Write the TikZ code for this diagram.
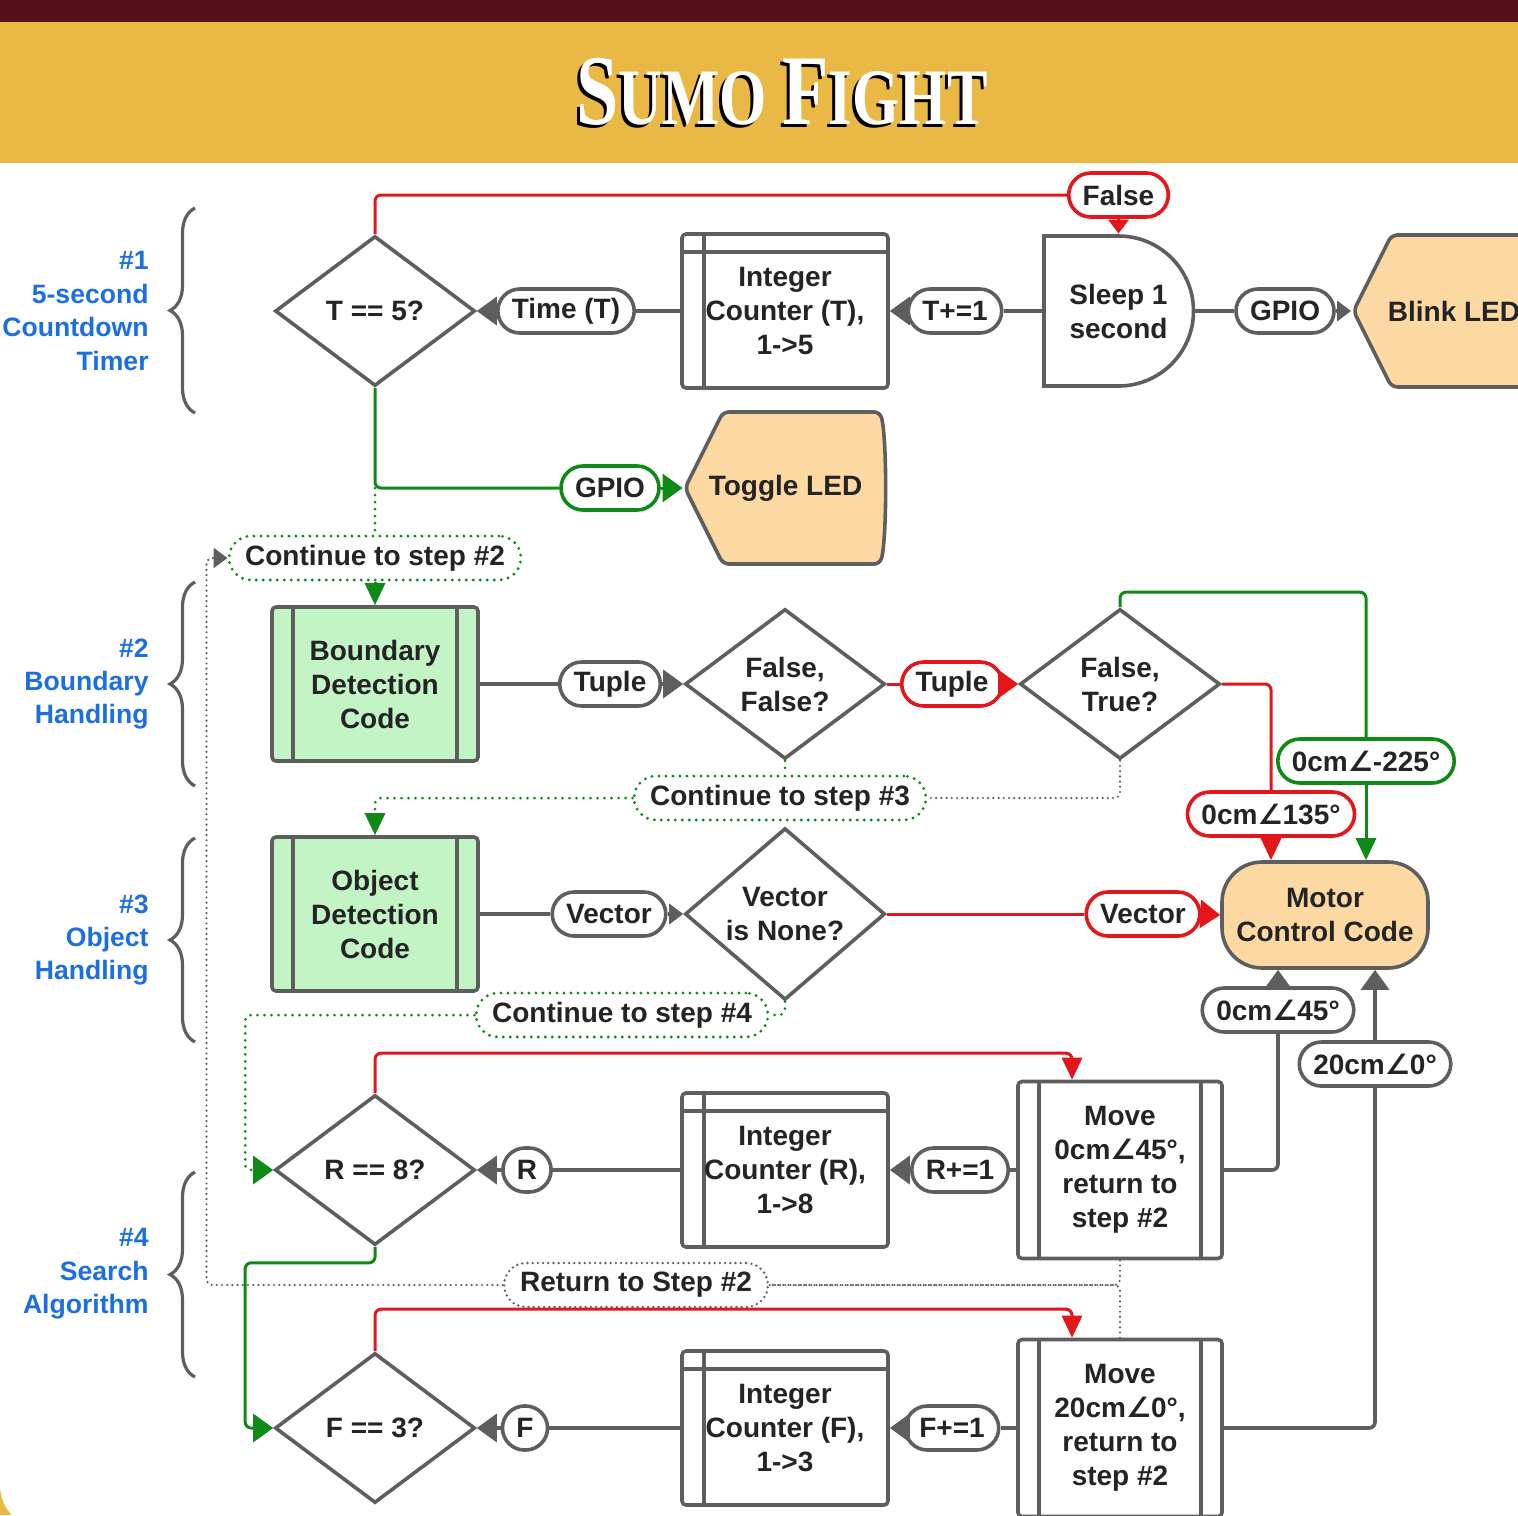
\documentclass[tikz,border=0pt]{standalone}
\usepackage{fontspec}
\setmainfont{Liberation Sans}
\newfontfamily\symfont{DejaVu Sans}
\newfontfamily\titlefont{Liberation Serif}
\usetikzlibrary{shapes.geometric,arrows.meta,decorations.pathreplacing}

\definecolor{maroon}{HTML}{541117}
\definecolor{gold}{HTML}{EAB945}
\definecolor{gry}{HTML}{5E5E5E}
\definecolor{ink}{HTML}{242424}
\definecolor{rd}{HTML}{E3161B}
\definecolor{grn}{HTML}{0F8A16}
\definecolor{blu}{HTML}{1B6FE0}
\definecolor{org}{HTML}{FCD9A2}
\definecolor{mint}{HTML}{C3F4C6}

\newcommand{\angl}{{\symfont ∠}}
\newcommand{\titletext}{\titlefont\bfseries
  \fontsize{50pt}{50pt}\selectfont S\fontsize{40pt}{40pt}\selectfont UMO
  \fontsize{50pt}{50pt}\selectfont F\fontsize{40pt}{40pt}\selectfont IGHT}

\begin{document}
\begin{tikzpicture}[x=0.5pt, y=-0.5pt,
    font=\fontsize{14pt}{17pt}\selectfont\bfseries, text=ink,
    dia/.style={diamond, draw=gry, line width=1.8pt, fill=white,
        minimum width=100pt, minimum height=75pt, inner sep=0pt, align=center},
    store/.style={rectangle, draw=gry, line width=1.8pt, fill=white,
        rounded corners=2pt, minimum width=103pt, minimum height=77pt, align=center,
        path picture={\draw[draw=gry, line width=1.8pt]
            ([xshift=11pt]path picture bounding box.north west) --
            ([xshift=11pt]path picture bounding box.south west)
            ([yshift=-9pt]path picture bounding box.north west) --
            ([yshift=-9pt]path picture bounding box.north east);}},
    proc/.style={rectangle, draw=gry, line width=1.8pt, fill=white,
        rounded corners=2pt, minimum width=103pt, minimum height=77pt, align=center,
        path picture={\draw[draw=gry, line width=1.8pt]
            ([xshift=10.5pt]path picture bounding box.north west) --
            ([xshift=10.5pt]path picture bounding box.south west)
            ([xshift=-10.5pt]path picture bounding box.north east) --
            ([xshift=-10.5pt]path picture bounding box.south east);}},
    dly/.style={rectangle, minimum width=76.5pt, minimum height=77pt,
        inner sep=0pt, align=center,
        path picture={\path[fill=white, draw=gry, line width=1.8pt]
            ([shift={(1pt,-1pt)}]path picture bounding box.north west) --
            ([yshift=-1pt]path picture bounding box.north)
            arc[start angle=90, end angle=-90, radius=37.5pt] --
            ([shift={(1pt,1pt)}]path picture bounding box.south west) -- cycle;}},
    disp/.style={rectangle, minimum width=102.5pt, minimum height=78pt,
        inner sep=0pt, align=center,
        path picture={\path[fill=org, draw=gry, line width=1.8pt, rounded corners=3pt]
            ([xshift=1pt]path picture bounding box.west) --
            ([shift={(20pt,-1pt)}]path picture bounding box.north west) --
            ([shift={(-4pt,-1pt)}]path picture bounding box.north east)
            .. controls ([shift={(-0.5pt,-14pt)}]path picture bounding box.north east)
            and ([shift={(-0.5pt,14pt)}]path picture bounding box.south east) ..
            ([shift={(-4pt,1pt)}]path picture bounding box.south east) --
            ([shift={(20pt,1pt)}]path picture bounding box.south west) -- cycle;}},
    motorbox/.style={rectangle, rounded corners=20pt, draw=gry, line width=1.8pt,
        fill=org, minimum width=103pt, minimum height=53pt, align=center},
    pill/.style={rectangle, rounded corners=11pt, draw=gry, line width=1.8pt,
        fill=white, minimum height=22pt, minimum width=22pt,
        inner xsep=7pt, inner ysep=0pt},
    rpill/.style={pill, draw=rd},
    gpill/.style={pill, draw=grn},
    dpill/.style={pill, draw=grn, line width=1.6pt, inner xsep=8pt,
        dash pattern=on 0pt off 3.5pt, line cap=round},
    ypill/.style={pill, draw=gry, line width=1.3pt, inner xsep=8pt,
        dash pattern=on 0pt off 2.6pt, line cap=round},
    gline/.style={draw=gry, line width=1.8pt, rounded corners=3pt},
    rline/.style={draw=rd, line width=1.5pt, rounded corners=3pt},
    grline/.style={draw=grn, line width=1.5pt, rounded corners=3pt},
    gdots/.style={draw=grn, line width=1.5pt, rounded corners=3pt,
        dash pattern=on 0pt off 3.5pt, line cap=round},
    ydots/.style={draw=gry, line width=1.2pt, rounded corners=3pt,
        dash pattern=on 0pt off 2.6pt, line cap=round},
    tipbig/.style={-{Triangle[length=10pt, width=14pt]}},
    tipsmall/.style={-{Triangle[length=7pt, width=10pt]}},
    tipdown/.style={-{Triangle[length=11pt, width=10pt]}},
    grp/.style={text=blu, align=right, anchor=east, inner sep=0pt,
        font=\fontsize{13.3pt}{16.7pt}\selectfont\bfseries},
    llave/.style={draw=gry, line width=1.6pt, decorate,
        decoration={brace, amplitude=12.5pt}}]
    \useasboundingbox (0,0) rectangle (1518,1515);
    % Encabezado
    \fill[gold] (0,0) rectangle (1518,1515);
    \fill[maroon] (0,0) rectangle (1518,22);
    \fill[white] (1560,163) -- (0,163) -- (0,1485)
        arc[start angle=180, end angle=270, radius=22pt] -- (1560,1529) -- cycle;
    \node[text=black, xscale=0.76] (titlesh) at (779,95) {\titletext};
    \node[text=white, xscale=0.76] (title) at (782,92) {\titletext};
    % Llaves y grupos
    \draw[llave] (195,413) -- (195,208);
    \draw[llave] (195,786) -- (195,582);
    \draw[llave] (195,1042) -- (195,838);
    \draw[llave] (195,1377) -- (195,1172);
    \node[grp] (lab1) at (149,311) {\#1\\5-second\\Countdown\\Timer};
    \node[grp] (lab2) at (149,684) {\#2\\Boundary\\Handling};
    \node[grp] (lab3) at (149,940) {\#3\\Object\\Handling};
    \node[grp] (lab4) at (149,1274) {\#4\\Search\\Algorithm};
    % Paso 1
    \node[dia] (t5) at (375,311) {T == 5?};
    \node[pill] (timeT) at (566,311) {Time (T)};
    \node[store] (cntT) at (785,311) {Integer\\Counter (T),\\1->5};
    \node[pill] (incT) at (955,311) {T+=1};
    \node[dly] (sleep) at (1118.5,311) {Sleep 1\\second};
    \node[pill] (gpioA) at (1285,311) {GPIO};
    \node[disp] (blink) at (1454,311) {Blink LED};
    \node[rpill] (falseA) at (1118.5,195) {False};
    \node[gpill] (gpioB) at (610,488) {GPIO};
    \node[disp] (toggle) at (785.5,488) {Toggle LED};
    \node[dpill] (cont2) at (375,558) {Continue to step \#2};
    % Paso 2
    \node[proc, fill=mint] (bound) at (375,684) {Boundary\\Detection\\Code};
    \node[pill] (tupA) at (610,684) {Tuple};
    \node[dia] (ffq) at (785,684) {False,\\False?};
    \node[rpill] (tupB) at (952,684) {Tuple};
    \node[dia] (ftq) at (1120,684) {False,\\True?};
    \node[dpill] (cont3) at (780,798) {Continue to step \#3};
    \node[gpill] (ang225) at (1366,761) {0cm\angl-225°};
    \node[rpill] (ang135) at (1271,814) {0cm\angl135°};
    % Paso 3
    \node[proc, fill=mint] (obj) at (375,914) {Object\\Detection\\Code};
    \node[pill] (vecA) at (609,914) {Vector};
    \node[dia] (vnone) at (785,914) {Vector\\is None?};
    \node[rpill] (vecB) at (1143,914) {Vector};
    \node[motorbox] (motor) at (1325,915) {Motor\\Control Code};
    \node[dpill] (cont4) at (622,1015) {Continue to step \#4};
    \node[pill] (ang45) at (1278,1010) {0cm\angl45°};
    \node[pill] (ang0) at (1375,1064) {20cm\angl0°};
    % Paso 4
    \node[dia] (r8) at (375,1170) {R == 8?};
    \node[pill] (pillR) at (527,1170) {R};
    \node[store] (cntR) at (785,1170) {Integer\\Counter (R),\\1->8};
    \node[pill] (incR) at (960,1170) {R+=1};
    \node[proc, minimum width=102pt, minimum height=88.5pt] (moveR) at (1120,1170)
        {Move\\0cm\angl45°,\\return to\\step \#2};
    \node[ypill] (ret2) at (636,1285) {Return to Step \#2};
    \node[dia] (f3) at (375,1428) {F == 3?};
    \node[pill] (pillF) at (525,1428) {F};
    \node[store] (cntF) at (785,1428) {Integer\\Counter (F),\\1->3};
    \node[pill] (incF) at (952,1428) {F+=1};
    \node[proc, minimum width=102pt, minimum height=88.5pt] (moveF) at (1120,1428)
        {Move\\20cm\angl0°,\\return to\\step \#2};
    % Conexiones paso 1
    \draw[gline] (cntT.west) -- (timeT.east);
    \draw[gline, tipbig] (timeT.west) -- (t5.east);
    \draw[gline] (sleep.west) -- (incT.east);
    \draw[gline, tipbig] (incT.west) -- (cntT.east);
    \draw[gline] (sleep.east) -- (gpioA.west);
    \draw[gline, tipsmall] (gpioA.east) -- (blink.west);
    \draw[rline] (t5.north) |- (falseA.west);
    \draw[rline, tipsmall] (falseA.south) -- (sleep.north);
    \draw[grline] (t5.south) |- (gpioB.west);
    \draw[grline, tipbig] (gpioB.east) -- (toggle.west);
    \draw[gdots] (t5.south |- gpioB.west) -- (cont2.north);
    \draw[grline, tipdown] (cont2.south) -- (bound.north);
    % Conexiones paso 2
    \draw[gline] (bound.east) -- (tupA.west);
    \draw[gline, tipbig] (tupA.east) -- (ffq.west);
    \draw[rline] (ffq.east) -- (tupB.west);
    \draw[rline, tipbig] (tupB.east) -- (ftq.west);
    \draw[grline] (ftq.north) -- ++(0,-15) -| (ang225.north);
    \draw[grline, tipdown] (ang225.south) -- (ang225.south |- motor.north);
    \draw[rline] (ftq.east) -| (ang135.north);
    \draw[rline, tipdown] (ang135.south) -- (ang135.south |- motor.north);
    \draw[gdots] (ffq.south) -- (ffq.south |- cont3.north);
    \draw[ydots] (ftq.south) |- (cont3.east);
    \draw[gdots, tipdown] (cont3.west) -| (obj.north);
    % Conexiones paso 3
    \draw[gline] (obj.east) -- (vecA.west);
    \draw[gline, tipsmall] (vecA.east) -- (vnone.west);
    \draw[rline] (vnone.east) -- (vecB.west);
    \draw[rline, tipbig] (vecB.east) -- (motor.west);
    \draw[gdots] (vnone.south) |- (cont4.east);
    \draw[gdots, tipbig] (cont4.west) -| ([xshift=-14pt]r8.west) -- (r8.west);
    % Conexiones paso 4
    \draw[gline] (cntR.west) -- (pillR.east);
    \draw[gline, tipbig] (pillR.west) -- (r8.east);
    \draw[gline] (moveR.west) -- (incR.east);
    \draw[gline, tipbig] (incR.west) -- (cntR.east);
    \draw[rline, tipdown] (r8.north) -- ++(0,-40) -| ([xshift=-24pt]moveR.north);
    \draw[gline] (moveR.east) -| (ang45.south);
    \draw[gline, tipbig] (ang45.north) -- (ang45.north |- motor.south);
    \draw[grline, tipbig] (r8.south) -- ++(0,16) -| ([xshift=-14pt]f3.west) -- (f3.west);
    \draw[ydots] (moveR.south) |- (ret2.east);
    \draw[ydots] (moveF.north) |- (ret2.east);
    \draw[ydots, tipsmall] (ret2.west) -| ([xshift=-10.5pt]cont2.west) -- (cont2.west);
    \draw[gline] (cntF.west) -- (pillF.east);
    \draw[gline, tipbig] (pillF.west) -- (f3.east);
    \draw[gline] (moveF.west) -- (incF.east);
    \draw[gline, tipbig] (incF.west) -- (cntF.east);
    \draw[rline, tipdown] (f3.north) -- ++(0,-42) -| ([xshift=-24pt]moveF.north);
    \draw[gline] (moveF.east) -| (ang0.south);
    \draw[gline, tipbig] (ang0.north) -- (ang0.north |- motor.south);
\end{tikzpicture}
\end{document}
